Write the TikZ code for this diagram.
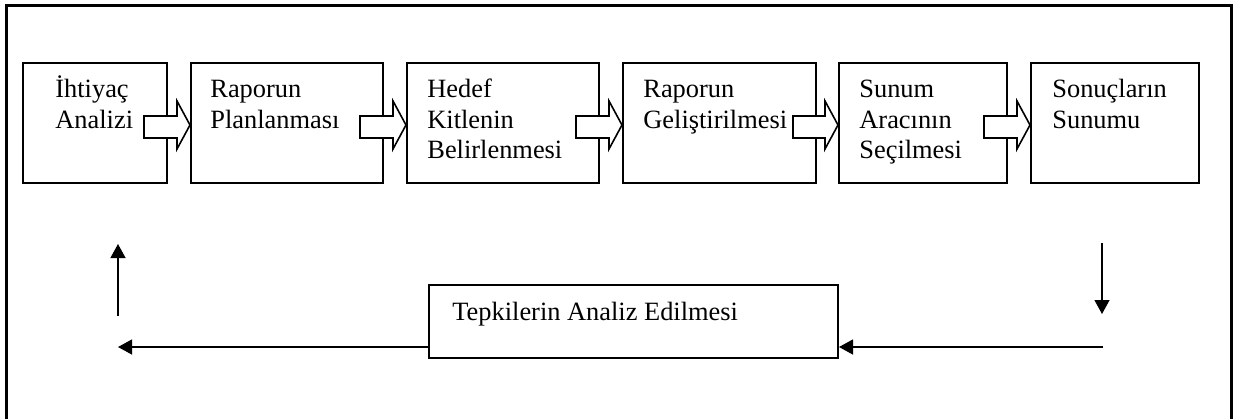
\documentclass[tikz,border=0pt]{standalone}
\usepackage{fontspec}
\setmainfont{Liberation Serif}
\usetikzlibrary{arrows.meta,calc}
% fixed-height strut so every first line sits on the same baseline
\newcommand{\capstrut}{\rule{0pt}{12pt}}
\begin{document}
\begin{tikzpicture}[x=0.5pt,y=-0.5pt,
  stepbox/.style={draw,line width=1pt,minimum height=60pt,inner sep=0pt,anchor=north west},
  steptext/.style={anchor=north west,inner sep=0pt,align=left,font=\fontsize{13.2}{15.25}\selectfont},
  blockarrow/.style={draw,fill=white,line width=0.8pt,line join=miter},
  flow/.style={line width=0.65pt,-{Triangle[length=7pt,width=7.5pt]}},
]
\useasboundingbox (0,0) rectangle (1237,419);
% outer frame (open at the bottom)
\draw[line width=1.5pt] (6,419) -- (6,5.5) -- (1231.5,5.5) -- (1231.5,419);

% process steps
\node[stepbox,minimum width=72pt]   (b1) at (22,62)   {};
\node[stepbox,minimum width=96pt]   (b2) at (190,62)  {};
\node[stepbox,minimum width=96pt]   (b3) at (406,62)  {};
\node[stepbox,minimum width=96.5pt] (b4) at (622,62)  {};
\node[stepbox,minimum width=84pt]   (b5) at (838,62)  {};
\node[stepbox,minimum width=84pt]   (b6) at (1030,62) {};

\node[steptext] (t1) at ($(b1.north west)+(33,11.5)$) {\capstrut İhtiyaç\\Analizi};
\node[steptext] (t2) at ($(b2.north west)+(20,11.5)$) {\capstrut Raporun\\Planlanması};
\node[steptext] (t3) at ($(b3.north west)+(21,11.5)$) {\capstrut Hedef\\Kitlenin\\Belirlenmesi};
\node[steptext] (t4) at ($(b4.north west)+(21,11.5)$) {\capstrut Raporun\\Geliştirilmesi};
\node[steptext] (t5) at ($(b5.north west)+(21,11.5)$) {\capstrut Sunum\\Aracının\\Seçilmesi};
\node[steptext] (t6) at ($(b6.north west)+(22,11.5)$) {\capstrut Sonuçların\\Sunumu};

% block arrows between consecutive steps
\foreach \a/\b in {b1/b2,b2/b3,b3/b4,b4/b5,b5/b6}
  \draw[blockarrow] ($(\a.east)+(-24,-7)$) -- ($(\b.west)+(-13,-7)$)
    -- ($(\b.west)+(-13,-22)$) -- ($(\b.west)+(0,2)$) -- ($(\b.west)+(-13,26)$)
    -- ($(\b.west)+(-13,15)$) -- ($(\a.east)+(-24,15)$) -- cycle;

% feedback step
\node[draw,line width=1pt,minimum width=204.5pt,minimum height=36.5pt,inner sep=0pt] (fb) at (633.5,321.5) {};
\node[anchor=base west,inner sep=0pt,font=\fontsize{13.2}{15.25}\selectfont] (fbt) at (452,320) {Tepkilerin Analiz Edilmesi};

% feedback loop connectors
\coordinate (downtop) at (1102,243);
\coordinate (downtip) at (1102,314);
\coordinate (rstart)  at (1103,347);
\coordinate (lend)    at (118,347);
\coordinate (upstart) at (118,316);
\coordinate (uptip)   at (118,244);
\draw[flow] (downtop) -- (downtip);
\draw[flow] (rstart) -- (rstart -| fb.east);
\draw[flow] (lend -| fb.west) -- (lend);
\draw[flow] (upstart) -- (uptip);
\end{tikzpicture}
\end{document}
